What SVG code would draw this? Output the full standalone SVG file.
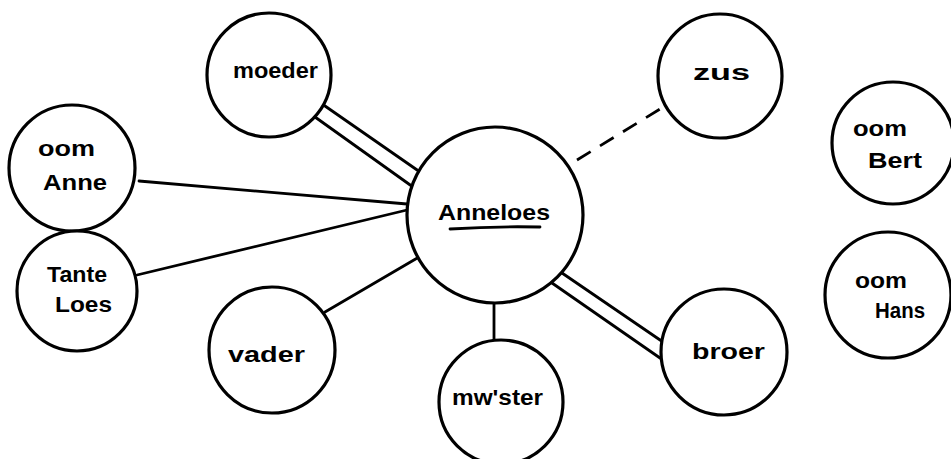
<svg xmlns="http://www.w3.org/2000/svg" width="951" height="459" viewBox="0 0 951 459">
<style>
.n{fill:#fff;stroke:#000;stroke-width:3.2}
.t{font-family:"Liberation Sans","DejaVu Sans",sans-serif;font-size:22px;font-weight:bold;fill:#000}
.c{stroke:#000;stroke-width:2.8;fill:none;stroke-linecap:round}
.d{stroke-dasharray:16 11;stroke-linecap:butt}
</style>
<rect width="951" height="459" fill="#fff"/>
<g id="connectors">
<line class="c" x1="325" y1="106" x2="420" y2="172"/>
<line class="c" x1="315" y1="117" x2="413" y2="187"/>
<line class="c" x1="139" y1="181" x2="407" y2="204"/>
<line class="c" x1="137" y1="275" x2="407" y2="210"/>
<line class="c" x1="325" y1="312" x2="419" y2="257"/>
<line class="c" x1="494" y1="302" x2="494" y2="340"/>
<line class="c" x1="562" y1="273" x2="663" y2="342"/>
<line class="c" x1="552" y1="283" x2="660" y2="358"/>
<line class="c d" x1="577" y1="160" x2="660" y2="109"/>
</g>
<g id="anneloes">
<circle class="n" cx="495" cy="215" r="88" fill="none"/>
<text class="t" x="438" y="220" textLength="112" lengthAdjust="spacingAndGlyphs">Anneloes</text>
<path class="c" d="M450 229 Q495 226 540 227"/>
</g>
<g id="moeder">
<circle class="n" cx="269" cy="75" r="62"/>
<text class="t" x="233" y="78" textLength="85" lengthAdjust="spacingAndGlyphs">moeder</text>
</g>
<g id="oom-anne">
<circle class="n" cx="72" cy="168" r="63"/>
<text class="t" x="38" y="156" textLength="57" lengthAdjust="spacingAndGlyphs">oom</text>
<text class="t" x="43" y="190" textLength="64" lengthAdjust="spacingAndGlyphs">Anne</text>
</g>
<g id="tante-loes">
<circle class="n" cx="77" cy="291" r="60"/>
<text class="t" x="47" y="282" textLength="60" lengthAdjust="spacingAndGlyphs">Tante</text>
<text class="t" x="55" y="312" textLength="57" lengthAdjust="spacingAndGlyphs">Loes</text>
</g>
<g id="vader">
<circle class="n" cx="272" cy="350" r="63"/>
<text class="t" x="228" y="362" textLength="77" lengthAdjust="spacingAndGlyphs">vader</text>
</g>
<g id="mwster">
<circle class="n" cx="501" cy="402" r="62"/>
<text class="t" x="452" y="405" textLength="91" lengthAdjust="spacingAndGlyphs">mw'ster</text>
</g>
<g id="broer">
<circle class="n" cx="724" cy="352" r="63"/>
<text class="t" x="692" y="359" textLength="73" lengthAdjust="spacingAndGlyphs">broer</text>
</g>
<g id="zus">
<circle class="n" cx="720" cy="76" r="62"/>
<text class="t" x="693" y="80" textLength="57" lengthAdjust="spacingAndGlyphs">zus</text>
</g>
<g id="oom-bert">
<circle class="n" cx="893" cy="143" r="61"/>
<text class="t" x="853" y="136" textLength="54" lengthAdjust="spacingAndGlyphs">oom</text>
<text class="t" x="868" y="168" textLength="54" lengthAdjust="spacingAndGlyphs">Bert</text>
</g>
<g id="oom-hans">
<circle class="n" cx="888" cy="295" r="63"/>
<text class="t" x="855" y="288" textLength="52" lengthAdjust="spacingAndGlyphs">oom</text>
<text class="t" x="875" y="318" textLength="50" lengthAdjust="spacingAndGlyphs">Hans</text>
</g>
</svg>
